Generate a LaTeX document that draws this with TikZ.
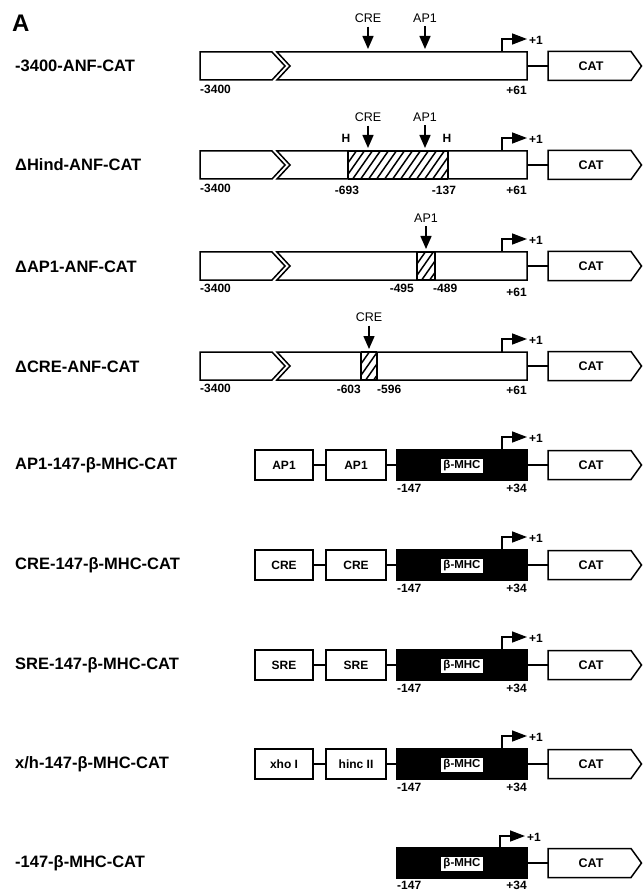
\documentclass[tikz,border=0pt]{standalone}
\usepackage{fontspec}
\setmainfont{Liberation Sans}
\usetikzlibrary{arrows.meta}
\newcommand\mkcat[2]{%
  \draw[ol, fill=white] (548,#2-14.5) -- (631,#2-14.5) -- (641.5,#2) -- (631,#2+14.5) -- (548,#2+14.5) -- cycle;
  \node[boxt] (#1) at (591,#2) {CAT};
  \coordinate (#1w) at (548,#2);
}
\newcommand\mkanf[2]{%
  \draw[ol, fill=white] (200,#2-14) -- (272,#2-14) -- (285,#2) -- (272,#2+14) -- (200,#2+14) -- cycle;
  \draw[ol, fill=white] (277,#2-14) -- (527,#2-14) -- (527,#2+14) -- (277,#2+14) -- (290,#2) -- cycle;
  \coordinate (#1e) at (527,#2);
  \coordinate (#1t) at (502,#2-14);
  \coordinate (#1p) at (527,#2-27);
}
\newcommand\mkhatch[4]{% x1 x2 yc name
  \begin{scope}
    \clip (#1,#3-14) rectangle (#2,#3+14);
    \foreach \i in {-28,-20,...,110} \draw[hatchl] ({#1+\i},#3+15) -- ++(21,-30);
  \end{scope}
  \draw[ol] (#1,#3-14) -- (#1,#3+14) (#2,#3-14) -- (#2,#3+14);
  \draw[ol] (#1,#3-14) -- (#2,#3-14) (#1,#3+14) -- (#2,#3+14);
  \coordinate (#4) at ({(#1+#2)/2},#3-14);
}
\begin{document}
\begin{tikzpicture}[x=1pt,y=-1pt,
  ol/.style={line width=1.5pt, line join=miter},
  rowlbl/.style={font=\bfseries\fontsize{16.5}{18}\selectfont, anchor=west, inner sep=0pt},
  posl/.style={font=\bfseries\fontsize{12}{13}\selectfont, inner sep=0pt},
  sitel/.style={font=\fontsize{12.5}{13}\selectfont, inner sep=0pt},
  boxt/.style={font=\bfseries\fontsize{12.5}{13}\selectfont, inner sep=0pt},
  elem/.style={draw, line width=1.5pt, fill=white, minimum height=30pt, inner sep=0pt, font=\bfseries\fontsize{12}{13}\selectfont},
  mhc/.style={draw, fill=black, line width=1.5pt, minimum width=130pt, minimum height=30pt, inner sep=0pt},
  mhclbl/.style={fill=white, inner xsep=2pt, inner ysep=2pt, font=\bfseries\fontsize{11.5}{12}\selectfont},
  link/.style={line width=1.5pt},
  tss/.style={line width=1.5pt, -{Triangle[length=15pt,width=11pt]}},
  sitearrow/.style={line width=1.5pt, -{Triangle[length=13pt,width=11pt]}},
  hatchl/.style={line width=1.5pt},
]
\useasboundingbox (0,0) rectangle (643,890);

\node[font=\bfseries\fontsize{24}{26}\selectfont, anchor=west, inner sep=0pt] (A) at (12,23) {A};

% ---------- Row 1 ----------
\node[rowlbl] (n1) at (15,66) {-3400-ANF-CAT};
\mkanf{r1}{66}
\mkcat{c1}{66}
\draw[link] (r1e) -- (c1w);
\draw[tss] (r1t) |- (r1p);
\node[posl, anchor=west] (tss1) at (529,40) {+1};
\node[sitel] (cre1) at (368,18) {CRE};
\node[sitel] (ap11) at (425,18) {AP1};
\coordinate (cre1b) at (368,49);
\coordinate (ap11b) at (425,49);
\draw[sitearrow] (cre1.south) ++(0,4) -- (cre1b);
\draw[sitearrow] (ap11.south) ++(0,4) -- (ap11b);
\node[posl, anchor=west] (p1a) at (200,89) {-3400};
\node[posl, anchor=east] (p1b) at (527,90) {+61};

% ---------- Row 2 ----------
\node[rowlbl] (n2) at (15,165) {ΔHind-ANF-CAT};
\mkanf{r2}{165}
\mkhatch{348}{448}{165}{h2}
\mkcat{c2}{165}
\draw[link] (r2e) -- (c2w);
\draw[tss] (r2t) |- (r2p);
\node[posl, anchor=west] (tss2) at (529,139) {+1};
\node[sitel] (cre2) at (368,117) {CRE};
\node[sitel] (ap12) at (425,117) {AP1};
\coordinate (cre2b) at (368,148);
\coordinate (ap12b) at (425,148);
\draw[sitearrow] (cre2.south) ++(0,4) -- (cre2b);
\draw[sitearrow] (ap12.south) ++(0,4) -- (ap12b);
\node[posl] (hl) at (346,138) {H};
\node[posl] (hr) at (447,138) {H};
\node[posl, anchor=west] (p2a) at (200,188) {-3400};
\node[posl] (p2b) at (347,190) {-693};
\node[posl] (p2c) at (444,190) {-137};
\node[posl, anchor=east] (p2d) at (527,190) {+61};

% ---------- Row 3 ----------
\node[rowlbl] (n3) at (15,267) {ΔAP1-ANF-CAT};
\mkanf{r3}{266}
\mkhatch{417}{435}{266}{h3}
\mkcat{c3}{266}
\draw[link] (r3e) -- (c3w);
\draw[tss] (r3t) |- (r3p);
\node[posl, anchor=west] (tss3) at (529,240) {+1};
\node[sitel] (ap13) at (426,218) {AP1};
\coordinate (ap13b) at (426,249);
\draw[sitearrow] (ap13.south) ++(0,4) -- (ap13b);
\node[posl, anchor=west] (p3a) at (200,288) {-3400};
\node[posl, anchor=east] (p3b) at (414,288) {-495};
\node[posl, anchor=west] (p3c) at (433,288) {-489};
\node[posl, anchor=east] (p3d) at (527,292) {+61};

% ---------- Row 4 ----------
\node[rowlbl] (n4) at (15,367) {ΔCRE-ANF-CAT};
\mkanf{r4}{366}
\mkhatch{361}{377}{366}{h4}
\mkcat{c4}{366}
\draw[link] (r4e) -- (c4w);
\draw[tss] (r4t) |- (r4p);
\node[posl, anchor=west] (tss4) at (529,340) {+1};
\node[sitel] (cre4) at (369,317) {CRE};
\coordinate (cre4b) at (369,349);
\draw[sitearrow] (cre4.south) ++(0,4) -- (cre4b);
\node[posl, anchor=west] (p4a) at (200,388) {-3400};
\node[posl, anchor=east] (p4b) at (361,389) {-603};
\node[posl, anchor=west] (p4c) at (377,389) {-596};
\node[posl, anchor=east] (p4d) at (527,390) {+61};

% ---------- beta-MHC rows ----------
\foreach \yc/\nm/\ea/\eb/\rl in {465/a/AP1/AP1/AP1, 565/b/CRE/CRE/CRE, 665/c/SRE/SRE/SRE, 764/d/xho I/hinc II/{x/h}}{
  \node[rowlbl] (n\nm) at (15,\yc) {\rl-147-β-MHC-CAT};
  \node[elem, minimum width=58pt] (e1\nm) at (284,\yc) {\ea};
  \node[elem, minimum width=60pt] (e2\nm) at (356,\yc) {\eb};
  \node[mhc] (m\nm) at (462,\yc) {};
  \node[mhclbl] (ml\nm) at (462,\yc+1) {β-MHC};
  \mkcat{k\nm}{\yc}
  \draw[link] (e1\nm) -- (e2\nm);
  \draw[link] (e2\nm) -- (m\nm);
  \draw[link] (m\nm) -- (k\nm w);
  \coordinate (t\nm) at (502,\yc-15);
  \coordinate (q\nm) at (527,\yc-28);
  \draw[tss] (t\nm) |- (q\nm);
  \node[posl, anchor=west] (pp\nm) at (529,\yc-27) {+1};
  \node[posl, anchor=west] (pl\nm) at (397,\yc+23) {-147};
  \node[posl, anchor=east] (pr\nm) at (527,\yc+23) {+34};
}

% ---------- last row ----------
\node[rowlbl] (ne) at (15,863) {-147-β-MHC-CAT};
\node[mhc] (me) at (462,863) {};
\node[mhclbl] (mle) at (462,864) {β-MHC};
\mkcat{ke}{863}
\draw[link] (me) -- (kew);
\coordinate (te) at (500,848);
\coordinate (qe) at (525,836);
\draw[tss] (te) |- (qe);
\node[posl, anchor=west] (ppe) at (527,837) {+1};
\node[posl, anchor=west] (ple) at (397,885) {-147};
\node[posl, anchor=east] (pre) at (527,885) {+34};
\end{tikzpicture}
\end{document}
